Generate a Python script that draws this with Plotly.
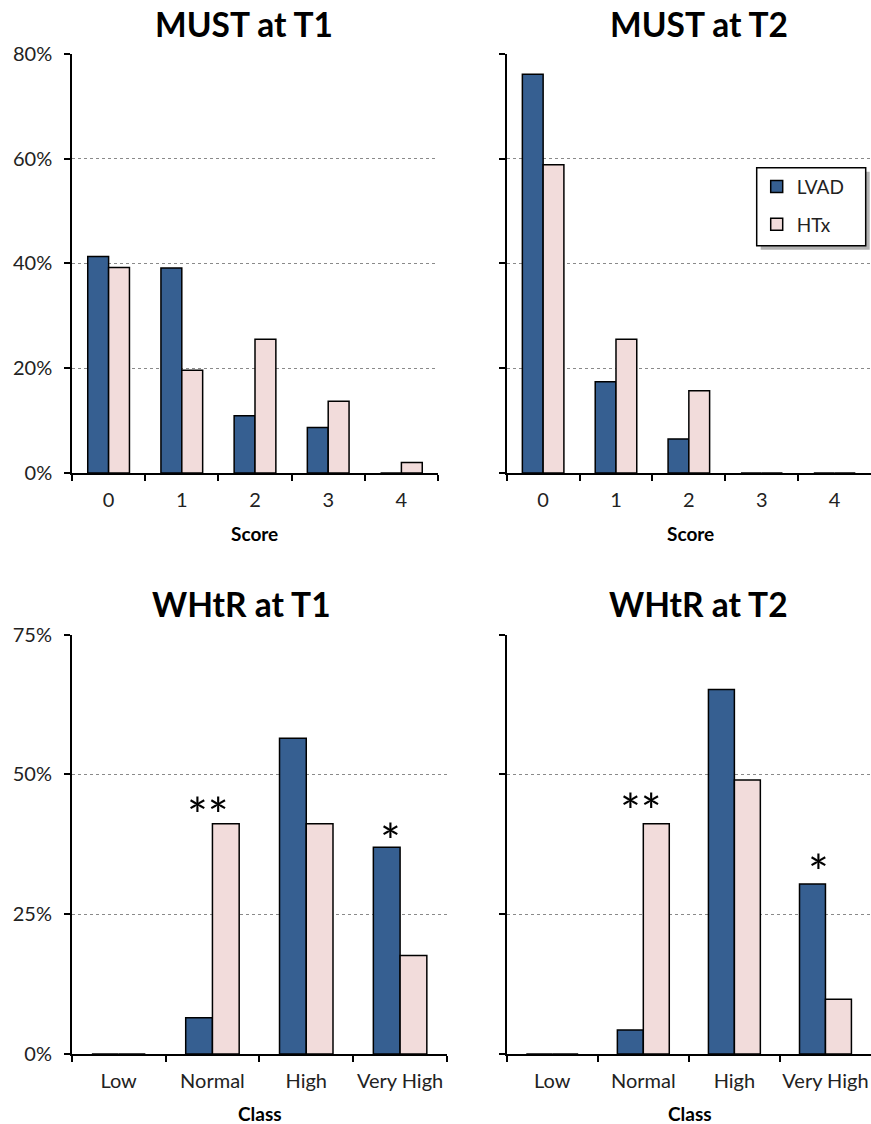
import plotly.graph_objects as go

# ---------------- data ----------------
scores = ["0", "1", "2", "3", "4"]
classes = ["Low", "Normal", "High", "Very High"]

must_t1_lvad = [41.3, 39.1, 10.9, 8.7, 0]
must_t1_htx = [39.2, 19.6, 25.5, 13.7, 2.0]
must_t2_lvad = [76.1, 17.4, 6.5, 0, 0]
must_t2_htx = [58.8, 25.5, 15.7, 0, 0]

whtr_t1_lvad = [0, 6.5, 56.5, 37.0]
whtr_t1_htx = [0, 41.2, 41.2, 17.6]
whtr_t2_lvad = [0, 4.3, 65.2, 30.4]
whtr_t2_htx = [0, 41.2, 49.0, 9.8]

panel_titles = ["MUST at T1", "MUST at T2", "WHtR at T1", "WHtR at T2"]
series_names = ["LVAD", "HTx"]

# ---------------- style ----------------
FONT = "Lato"
BLUE = "#365F91"
PINK = "#F2DCDB"
W, H = 871, 1124

def px(x):
    return x / W

def py(y):
    return 1 - y / H

fig = go.Figure()

panels = [
    ("x", "y", scores, must_t1_lvad, must_t1_htx),
    ("x2", "y2", scores, must_t2_lvad, must_t2_htx),
    ("x3", "y3", classes, whtr_t1_lvad, whtr_t1_htx),
    ("x4", "y4", classes, whtr_t2_lvad, whtr_t2_htx),
]

for i, (xa, ya, cats, lv, ht) in enumerate(panels):
    fig.add_trace(go.Bar(x=cats, y=lv, name=series_names[0], xaxis=xa, yaxis=ya,
                         marker=dict(color=BLUE, line=dict(color="black", width=1.5)),
                         showlegend=(i == 1), legendgroup="a"))
    fig.add_trace(go.Bar(x=cats, y=ht, name=series_names[1], xaxis=xa, yaxis=ya,
                         marker=dict(color=PINK, line=dict(color="black", width=1.5)),
                         showlegend=(i == 1), legendgroup="b"))

xcommon = dict(type="category", showline=True, linecolor="black", linewidth=1.5,
               ticks="outside", tickson="boundaries", ticklen=6, tickcolor="black",
               tickwidth=1.5, showgrid=False, zeroline=False, automargin=False,
               tickangle=0,
               tickfont=dict(family=FONT, size=20, color="#222"), ticklabelstandoff=8,
               fixedrange=True)
ycommon = dict(showline=True, linecolor="black", linewidth=1.5, ticks="outside",
               ticklen=6, tickcolor="black", tickwidth=1.5, showgrid=True,
               gridcolor="#8a8a8a", griddash="dot", gridwidth=1, zeroline=False,
               ticksuffix="%", tickfont=dict(family=FONT, size=20, color="#222"),
               ticklabelstandoff=8, fixedrange=True, automargin=False)

top_y = [py(473), py(53.7)]
bot_y = [py(1054), py(634.7)]

fig.update_layout(
    xaxis=dict(xcommon, domain=[px(72), px(438)], anchor="y"),
    yaxis=dict(ycommon, domain=top_y, range=[0, 80], dtick=20, anchor="x"),
    xaxis2=dict(xcommon, domain=[px(506.7), 1.0], anchor="y2"),
    yaxis2=dict(ycommon, domain=top_y, range=[0, 80], dtick=20, anchor="x2",
                showticklabels=False),
    xaxis3=dict(xcommon, domain=[px(71.7), px(447)], anchor="y3"),
    yaxis3=dict(ycommon, domain=bot_y, range=[0, 75], dtick=25, anchor="x3"),
    xaxis4=dict(xcommon, domain=[px(506.7), 1.0], anchor="y4"),
    yaxis4=dict(ycommon, domain=bot_y, range=[0, 75], dtick=25, anchor="x4",
                showticklabels=False),
)

annotations = []
# panel titles
title_pos = [(244, 24), (699, 24), (241.5, 604), (698, 604)]
for t, (tx, ty) in zip(panel_titles, title_pos):
    annotations.append(dict(text="<b>" + t + "</b>", x=px(tx), y=py(ty), xref="paper",
                            yref="paper", showarrow=False, xanchor="center",
                            yanchor="middle", font=dict(family=FONT, size=33.5, color="black")))
# axis titles
axis_titles = [("Score", 255, 533), ("Score", 690, 533), ("Class", 260, 1113), ("Class", 690, 1113)]
for t, ax_x, ax_y in axis_titles:
    annotations.append(dict(text="<b>" + t + "</b>", x=px(ax_x), y=py(ax_y), xref="paper",
                            yref="paper", showarrow=False, xanchor="center",
                            yanchor="middle", font=dict(family=FONT, size=19, color="black")))
# significance markers
sig = [
    ("x3", "y3", "Normal", max(whtr_t1_lvad[1], whtr_t1_htx[1]), "**", -4, 22),
    ("x3", "y3", "Very High", whtr_t1_lvad[3], "*", -10, 19),
    ("x4", "y4", "Normal", max(whtr_t2_lvad[1], whtr_t2_htx[1]), "**", -2, 26),
    ("x4", "y4", "Very High", whtr_t2_lvad[3], "*", -7, 25),
]
for xa, ya, cat, val, txt, xs, ys in sig:
    annotations.append(dict(text=txt, x=cat, y=val, xref=xa, yref=ya, showarrow=False,
                            xanchor="center", yanchor="middle", xshift=xs, yshift=ys - 12,
                            font=dict(family=FONT, size=49, color="black")))

# legend box (frame + drop shadow), drawn as shapes behind the legend entries
LEG_L, LEG_T, LEG_R, LEG_B = 756.7, 167.7, 865.7, 245.7
SH = 4
shapes = [
    dict(type="rect", xref="paper", yref="paper",
         x0=px(LEG_L + SH), x1=px(LEG_R + SH), y0=py(LEG_B + SH), y1=py(LEG_T + SH),
         fillcolor="rgba(0,0,0,0.3)", line=dict(width=0), layer="above"),
    dict(type="rect", xref="paper", yref="paper",
         x0=px(LEG_L), x1=px(LEG_R), y0=py(LEG_B), y1=py(LEG_T),
         fillcolor="white", line=dict(color="black", width=1.5), layer="above"),
]

fig.update_layout(
    width=W, height=H,
    margin=dict(l=0, r=0, t=0, b=0),
    paper_bgcolor="white", plot_bgcolor="white",
    barmode="group", bargap=0.43, bargroupgap=0,
    font=dict(family=FONT, size=19, color="#222"),
    annotations=annotations,
    shapes=shapes,
    legend=dict(x=px(LEG_L), y=py(LEG_T), xanchor="left", yanchor="top",
                bgcolor="rgba(0,0,0,0)", borderwidth=0,
                traceorder="grouped", tracegroupgap=10,
                font=dict(family=FONT, size=19, color="#222")),
)

fig.write_html("out.html", config={"displayModeBar": False},
               post_script="document.body.style.margin='0';document.body.style.overflow='hidden';")
